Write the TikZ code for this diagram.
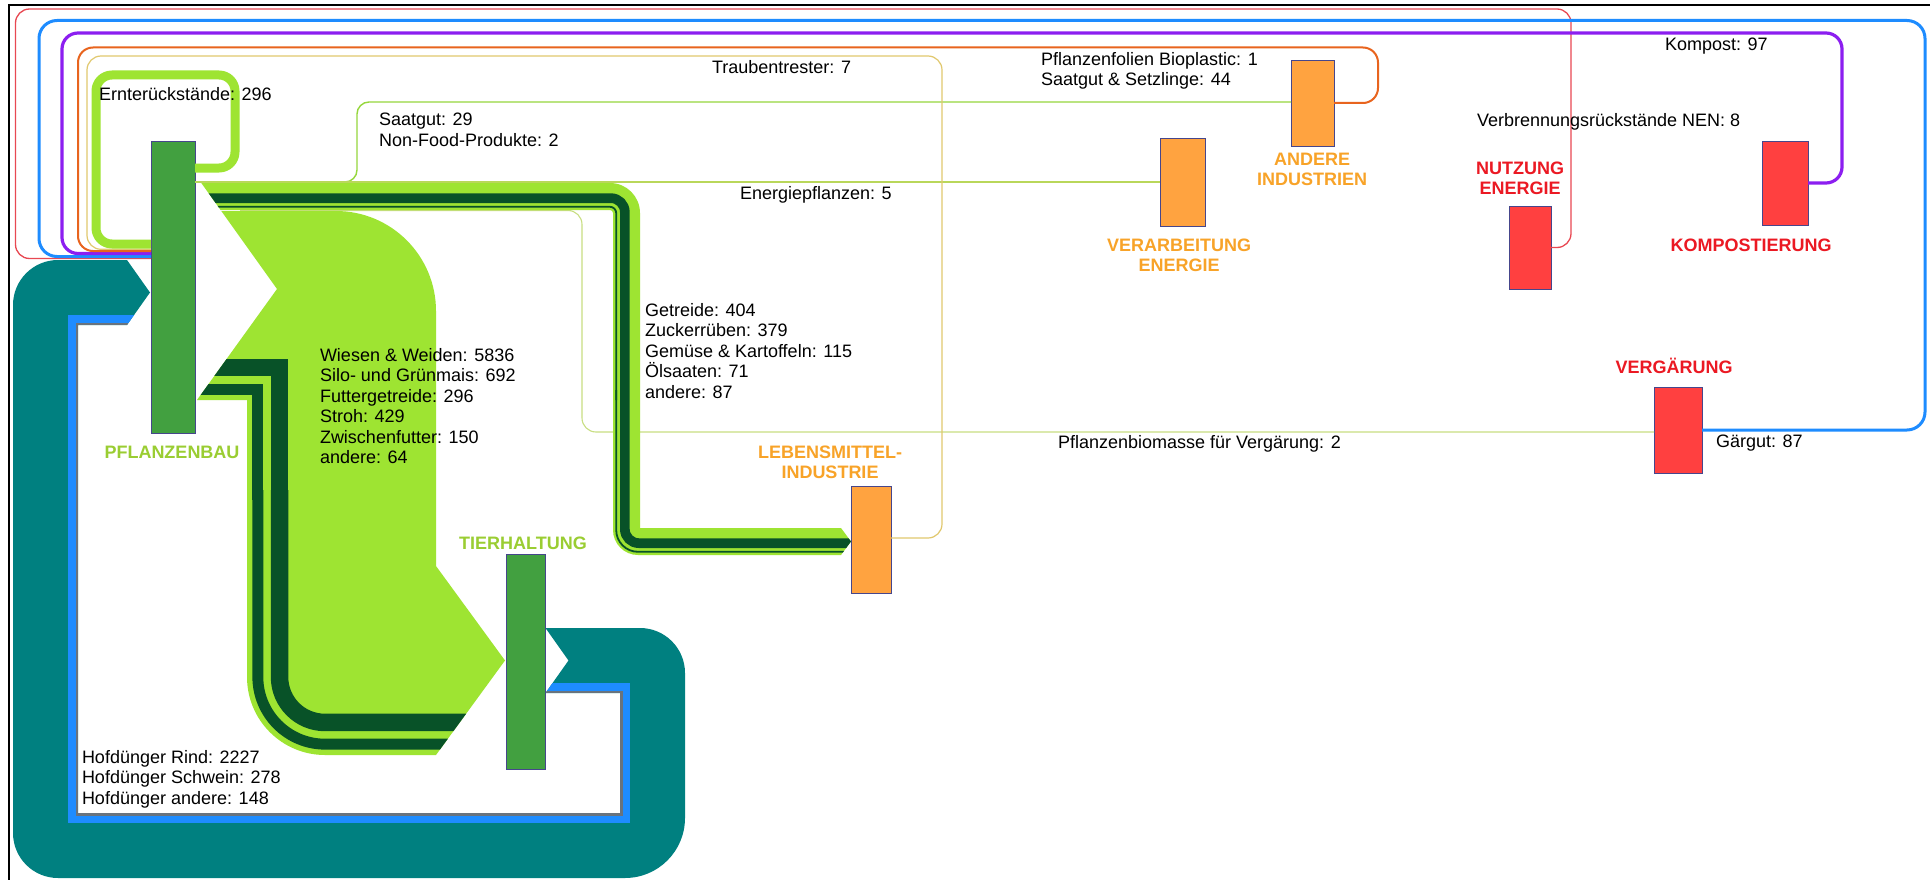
\documentclass[tikz,border=0pt]{standalone}
\usepackage{fontspec}
\setmainfont{Liberation Sans}
\usetikzlibrary{calc}

% flow and box colours
\definecolor{leaf}{RGB}{158,228,50}
\definecolor{forest}{RGB}{8,82,40}
\definecolor{nodegreen}{RGB}{66,160,64}
\definecolor{labelgreen}{RGB}{154,205,50}
\definecolor{nodeorange}{RGB}{255,163,64}
\definecolor{labelorange}{RGB}{248,163,40}
\definecolor{nodered}{RGB}{255,64,64}
\definecolor{labelred}{RGB}{235,25,35}
\definecolor{manure}{RGB}{0,128,128}
\definecolor{pigblue}{RGB}{30,140,255}
\definecolor{slate}{RGB}{105,115,125}
\definecolor{ashred}{RGB}{232,72,82}
\definecolor{compost}{RGB}{140,30,240}
\definecolor{bioplast}{RGB}{232,100,30}
\definecolor{pomace}{RGB}{225,200,110}
\definecolor{seedline}{RGB}{150,215,60}
\definecolor{energyline}{RGB}{185,215,90}
\definecolor{digestline}{RGB}{200,222,130}
\definecolor{boxline}{RGB}{70,70,140}

\tikzset{
  procbox/.style={rectangle, draw=boxline, line width=0.8pt, inner sep=0pt, outer sep=0pt},
  greenbox/.style={procbox, fill=nodegreen},
  orangebox/.style={procbox, fill=nodeorange},
  redbox/.style={procbox, fill=nodered},
  flowtext/.style={font=\fontsize{18}{20.5}\selectfont, inner sep=0pt, outer sep=0pt, align=left, anchor=north west},
  titlefont/.style={font=\fontsize{18}{20}\selectfont\bfseries, inner sep=0pt, outer sep=0pt, align=center},
  thinflow/.style={line cap=butt, line join=round},
}

% outlines of the broad Sankey bands (chevron tail, rounded turns, arrow head)
\def\feedflow{(221.3,211) -- (336,211) .. controls (391.23,211) and (436,255.77) .. (436,311)
  -- (436,566) -- (505,660.5) -- (436,755) -- (325,755)
  .. controls (281.92,755) and (247,720.08) .. (247,677)
  -- (247,400) -- (197,400) -- (277,289) -- cycle}
\def\foodflow{(201.3,183) -- (610,183) .. controls (626.57,183) and (640,196.43) .. (640,213)
  -- (640,528) -- (841,528) -- (851,541.5) -- (841,555) -- (638,555)
  .. controls (624.19,555) and (613,543.81) .. (613,530)
  -- (613,213) .. controls (613,211.34) and (611.66,210) .. (610,210)
  -- (220.6,210) -- cycle}
\def\manureflow{(545.5,628) -- (640,628) .. controls (664.85,628) and (685,648.15) .. (685,673)
  -- (685,818) .. controls (685,851.14) and (658.14,878) .. (625,878)
  -- (58,878) .. controls (33.15,878) and (13,857.85) .. (13,833)
  -- (13,305) .. controls (13,280.15) and (33.15,260) .. (58,260)
  -- (127,260) -- (150,292.5) -- (127,325) -- (78,325) -- (78,813)
  -- (620,813) -- (620,693) -- (545.5,693) -- (568.5,660.5) -- cycle}

\begin{document}
\begin{tikzpicture}[x=1pt,y=-1pt]
\useasboundingbox (0,0) rectangle (1930,880);
\fill[white] (0,0) rectangle (1930,880);

% frame
\draw[black, line width=2pt] (9,880) -- (9,5) -- (1930,5);

% process boxes
\node[greenbox, minimum width=44pt, minimum height=292pt] (pflanzenbau) at (173,287) {};
\node[greenbox, minimum width=39pt, minimum height=215pt] (tierhaltung) at (525.5,661.5) {};
\node[orangebox, minimum width=40pt, minimum height=107pt] (lebensmittel) at (871,539.5) {};
\node[orangebox, minimum width=45pt, minimum height=88pt] (verarbeitung) at (1182.5,182) {};
\node[orangebox, minimum width=43pt, minimum height=86pt] (andere) at (1312.5,103) {};
\node[redbox, minimum width=42pt, minimum height=83pt] (nutzung) at (1530,247.5) {};
\node[redbox, minimum width=46pt, minimum height=84pt] (kompost) at (1785,183) {};
\node[redbox, minimum width=48pt, minimum height=86pt] (vergaerung) at (1678,430) {};

% thin flows from Pflanzenbau
\coordinate (biogasstart) at (240,210.5);
\draw[thinflow, seedline, line width=1.4pt, rounded corners=12pt]
  (pflanzenbau.east |- 0,182) -- (357,182) -- (357,102) -- (andere.west |- 0,102);
\draw[thinflow, energyline, line width=1.2pt]
  (pflanzenbau.east |- 0,182) -- (verarbeitung.west);
\draw[thinflow, digestline, line width=1.1pt, rounded corners=14pt]
  (biogasstart) -- (582,210.5) -- (582,432) -- (vergaerung.west |- 0,432);

% return loops into Pflanzenbau
\draw[thinflow, ashred, line width=1.3pt, rounded corners=14pt]
  (nutzung.east) -- (1571,247.5) -- (1571,9) -- (15.5,9) -- (15.5,258.5) -- (pflanzenbau.west |- 0,258.5);
\draw[thinflow, pigblue, line width=3pt, rounded corners=18pt]
  (vergaerung.east) -- (1925,430) -- (1925,20.5) -- (39,20.5) -- (39,256.5) -- (pflanzenbau.west |- 0,256.5);
\draw[thinflow, compost, line width=3.2pt, rounded corners=16pt]
  (kompost.east) -- (1842,183) -- (1842,33) -- (62,33) -- (62,253.5) -- (pflanzenbau.west |- 0,253.5);
\draw[thinflow, bioplast, line width=2pt, rounded corners=15pt]
  (andere.east) -- (1378,103) -- (1378,47.5) -- (78,47.5) -- (78,251) -- (pflanzenbau.west |- 0,251);
\draw[thinflow, pomace, line width=1.2pt, rounded corners=14pt]
  (lebensmittel.east |- 0,538) -- (942,538) -- (942,56) -- (87,56) -- (87,249.3) -- (pflanzenbau.west |- 0,249.3);
\draw[thinflow, leaf, line width=9pt, rounded corners=16pt]
  (pflanzenbau.east |- 0,168) -- (235,168) -- (235,75) -- (96,75) -- (96,244) -- (pflanzenbau.west |- 0,244);

% Hofduenger band: Rind, Schwein, andere
\fill[manure] \manureflow;
\begin{scope}
  \clip \manureflow;
  \draw[pigblue, line width=7.5pt, line join=miter]
    (530,686.75) -- (626.25,686.75) -- (626.25,819.25) -- (71.75,819.25) -- (71.75,318.75) -- (170,318.75);
  \draw[slate, line width=2.5pt, line join=miter]
    (530,691.75) -- (621.25,691.75) -- (621.25,814.25) -- (76.75,814.25) -- (76.75,323.75) -- (170,323.75);
\end{scope}

% feed band to Tierhaltung
\fill[leaf] \feedflow;
\begin{scope}
  \clip \feedflow;
  \draw[forest, line width=17.5pt, line join=miter] (190,367.45) -- (279.55,367.45) -- (279.55,500);
  \draw[forest, line width=17.5pt, rounded corners=45.45pt] (279.55,490) -- (279.55,722.45) -- (520,722.45);
  \draw[forest, line width=10.9pt, line join=miter] (190,389.15) -- (257.85,389.15) -- (257.85,500);
  \draw[forest, line width=10.9pt, rounded corners=67.15pt] (257.85,490) -- (257.85,744.15) -- (520,744.15);
\end{scope}

% food band to Lebensmittelindustrie
\fill[leaf] \foodflow;
\begin{scope}
  \clip \foodflow;
  \draw[forest, line width=9.7pt, rounded corners=14pt]
    (190,198.15) -- (624.85,198.15) -- (624.85,543.15) -- (860,543.15);
  \draw[forest, line width=1.8pt, rounded corners=6.2pt]
    (190,206.8) -- (616.2,206.8) -- (616.2,400);
  \draw[forest, line width=1.8pt, rounded corners=21.8pt]
    (616.2,390) -- (616.2,551.8) -- (860,551.8);
\end{scope}

% box titles
\node[titlefont, text=labelgreen] (ttlpflanzen) at (172,452) {PFLANZENBAU};
\node[titlefont, text=labelgreen] (ttltier) at (523,543) {TIERHALTUNG};
\node[titlefont, text=labelorange, anchor=north] (ttlfood) at (830,445.5) {LEBENSMITTEL-\\INDUSTRIE};
\node[titlefont, text=labelorange, anchor=north] (ttlverarb) at (1179,238.5) {VERARBEITUNG\\ENERGIE};
\node[titlefont, text=labelorange, anchor=north] (ttlandere) at (1312,153.5) {ANDERE\\INDUSTRIEN};
\node[titlefont, text=labelred, anchor=north] (ttlnutzung) at (1520,161.5) {NUTZUNG\\ENERGIE};
\node[titlefont, text=labelred] (ttlkompost) at (1751,245) {KOMPOSTIERUNG};
\node[titlefont, text=labelred, anchor=base] (ttlvergaerung) at (1674,373.5) {VERGÄRUNG};

% flow labels
\node[flowtext] (lblernte) at (99,87.8) {Ernterückstände: 296};
\node[flowtext] (lblsaat) at (379,113.3) {Saatgut: 29\\Non-Food-Produkte: 2};
\node[flowtext] (lbltrester) at (712,60.3) {Traubentrester: 7};
\node[flowtext] (lblfolien) at (1041,52.3) {Pflanzenfolien Bioplastic: 1\\Saatgut \& Setzlinge: 44};
\node[flowtext] (lblenergie) at (740,186.3) {Energiepflanzen: 5};
\node[flowtext] (lblkompost) at (1665,38.3) {Kompost: 97};
\node[flowtext] (lblnen) at (1477,113.3) {Verbrennungsrückstände NEN: 8};
\node[flowtext] (lblfood) at (645,303.3) {Getreide: 404\\Zuckerrüben: 379\\Gemüse \& Kartoffeln: 115\\Ölsaaten: 71\\andere: 87};
\node[flowtext] (lblfeed) at (320,348.3) {Wiesen \& Weiden: 5836\\Silo- und Grünmais: 692\\Futtergetreide: 296\\Stroh: 429\\Zwischenfutter: 150\\andere: 64};
\node[flowtext] (lblbiogas) at (1058,435.3) {Pflanzenbiomasse für Vergärung: 2};
\node[flowtext] (lblgaergut) at (1716,435.3) {Gärgut: 87};
\node[flowtext] (lblmanure) at (82,750.3) {Hofdünger Rind: 2227\\Hofdünger Schwein: 278\\Hofdünger andere: 148};
\end{tikzpicture}
\end{document}
